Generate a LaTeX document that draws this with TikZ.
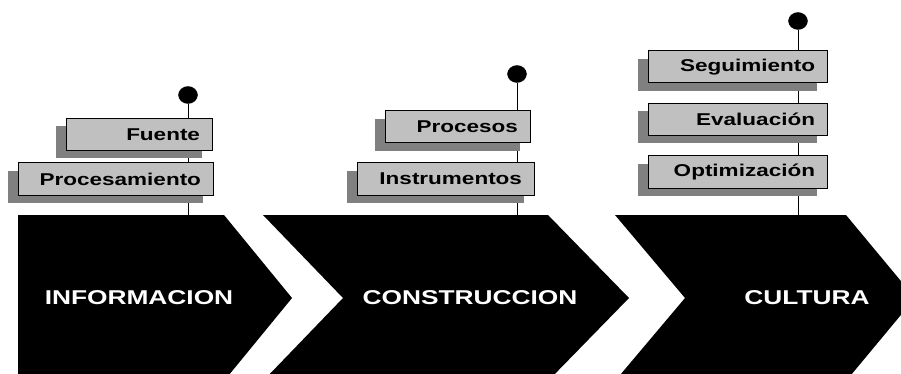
\documentclass[tikz,border=0pt]{standalone}
\usepackage{fontspec}
\setmainfont{Liberation Sans}
\usepackage{graphicx}
\usetikzlibrary{shadows,shapes.geometric}
\definecolor{boxgray}{RGB}{192,192,192}
\definecolor{shadegray}{RGB}{128,128,128}
\newcommand{\squash}[1]{\scalebox{1}[0.76]{#1}}
\tikzset{
  item/.style={draw, line width=1pt, fill=boxgray, rectangle, align=right, font=\bfseries\fontsize{22.5}{22.5}\selectfont, minimum height=32pt, inner xsep=12pt, inner ysep=0pt, drop shadow={shadow xshift=-10pt, shadow yshift=-8pt, fill=shadegray, opacity=1}},
  stage/.style={font=\bfseries\fontsize{26.3}{26.3}\selectfont, text=white},
  pin/.style={draw, fill=black, ellipse, minimum width=19pt, minimum height=17pt, inner sep=0pt},
  stem/.style={line width=1pt},
}
\begin{document}
\begin{tikzpicture}[x=1pt,y=-1pt]
\clip (0,0) rectangle (901,374);
% chevrons
\fill (18,215) -- (224,215) -- (292,298) -- (224,381) -- (18,381) -- cycle;
\fill (263,215) -- (548,215) -- (629,298) -- (548,381) -- (263,381) -- (343,298) -- cycle;
\fill (615,215) -- (846,215) -- (915,298) -- (846,381) -- (615,381) -- (685,298) -- cycle;
\node[stage] (s1) at (139,298) {\squash{INFORMACION}};
\node[stage] (s2) at (470,298) {\squash{CONSTRUCCION}};
\node[stage] (s3) at (807,298) {\squash{CULTURA}};
% pins and stems
\foreach \n/\x/\y in {1/188/95, 2/517/74, 3/798/21} {
  \node[pin] (d\n) at (\x,\y) {};
  \coordinate (t\n) at (\x,215);
  \draw[stem] (d\n) -- (t\n);
}
% labels
\foreach \n/\t/\x/\y/\w in {fu/Fuente/139/134.5/122, pr/Procesamiento/115.5/179/171, ps/Procesos/457.5/127/121, in/Instrumentos/445.5/179/153, se/Seguimiento/737.5/67/155, ev/Evaluación/737.5/119.5/155, op/Optimización/737.5/172/155} {
  \node[item, text width=\w pt] (\n) at (\x,\y) {\squash{\t}};
}
\end{tikzpicture}
\end{document}
